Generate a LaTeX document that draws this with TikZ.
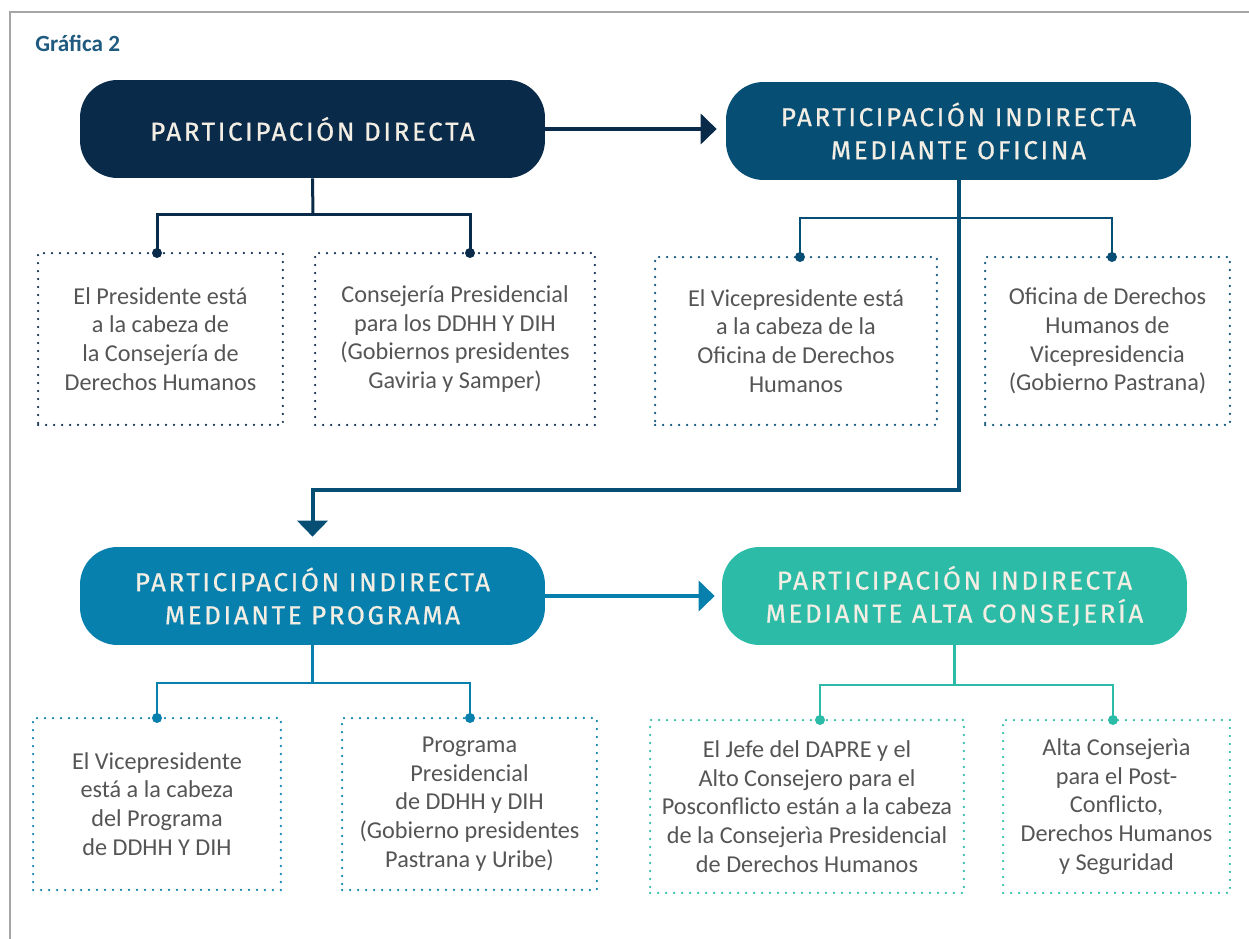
\documentclass[tikz,border=0pt]{standalone}
\usepackage{fontspec}
\setmainfont{Carlito}
\newfontfamily\titlefont[LetterSpace=10,FakeBold=0.6]{Fira Sans}
\usetikzlibrary{arrows.meta}

\definecolor{navy}{HTML}{0A2A4A}
\definecolor{ocean}{HTML}{074E75}
\definecolor{cerul}{HTML}{0780AE}
\definecolor{mint}{HTML}{2BBBA6}
\definecolor{cream}{HTML}{F3EEE4}
\definecolor{bodygray}{HTML}{555555}
\definecolor{framegray}{HTML}{A6A6A6}
\definecolor{titleblue}{HTML}{1F5A7F}

\tikzset{
  partbox/.style={rounded corners=0.75cm,fill=#1,text=cream,minimum width=9.3cm,
    minimum height=1.96cm,align=center,font=\titlefont\fontsize{14.8}{18.8}\selectfont},
  infobox/.style={draw=#1,line width=0.05cm,dash pattern=on 0pt off 0.16cm,line cap=round,
    minimum height=3.44cm,align=center,text=bodygray,font=\fontsize{13.8}{16.4}\selectfont},
  tree/.style={draw=#1,line width=0.05cm},
  bigarrow/.style={draw=#1,line width=0.08cm,-{Triangle[length=0.32cm,width=0.6cm]}},
}

\begin{document}
\begin{tikzpicture}[x=0.02cm,y=-0.02cm]
	\useasboundingbox (0,0) rectangle (1249,939);
	\draw[framegray,line width=0.03cm] (10,939) -- (10,12) -- (1249,12);
	\node[anchor=base west,inner sep=0pt,text=titleblue,font=\bfseries\fontsize{13.2}{15}\selectfont] (graf) at (35,52) {Gráfica 2};

	\node[partbox=navy] (dir) at (312.5,129) {PARTICIPACIÓN DIRECTA};
	\node[partbox=ocean] (ofi) at (958.5,131) {PARTICIPACIÓN INDIRECTA\\MEDIANTE OFICINA};
	\node[partbox=cerul] (prog) at (312.5,596) {PARTICIPACIÓN INDIRECTA\\MEDIANTE PROGRAMA};
	\node[partbox=mint] (alta) at (954.5,596) {PARTICIPACIÓN INDIRECTA\\MEDIANTE ALTA CONSEJERÍA};

	\node[infobox=navy,minimum width=4.9cm] (pres) at (160.5,339) {El Presidente está\\a la cabeza de\\la Consejería de\\Derechos Humanos};
	\node[infobox=navy,minimum width=5.6cm] (conse) at (455,339) {Consejería Presidencial\\para los DDHH Y DIH\\(Gobiernos presidentes\\Gaviria y Samper)};
	\node[infobox=ocean,minimum width=5.64cm,minimum height=3.36cm] (vice) at (796,341) {El Vicepresidente está\\a la cabeza de la\\Oficina de Derechos\\Humanos};
	\node[infobox=ocean,minimum width=4.9cm,minimum height=3.36cm] (ofdh) at (1107.5,341) {Oficina de Derechos\\Humanos de\\Vicepresidencia\\(Gobierno Pastrana)};
	\node[infobox=cerul,minimum width=4.96cm] (vprog) at (157,804) {El Vicepresidente\\está a la cabeza\\del Programa\\de DDHH Y DIH};
	\node[infobox=cerul,minimum width=5.1cm] (pprog) at (469.5,804) {Programa\\Presidencial\\de DDHH y DIH\\(Gobierno presidentes\\Pastrana y Uribe)};
	\node[infobox=mint,minimum width=6.28cm,minimum height=3.46cm] (jefe) at (807,806.5) {El Jefe del DAPRE y el\\Alto Consejero para el\\Posconflicto están a la cabeza\\de la Consejerìa Presidencial\\de Derechos Humanos};
	\node[infobox=mint,minimum width=4.54cm,minimum height=3.46cm] (altac) at (1116.5,806.5) {Alta Consejerìa\\para el Post-\\Conflicto,\\Derechos Humanos\\y Seguridad};

	%flechas principales
	\draw[bigarrow=navy,shorten >=0.18cm] (dir.east) -- (dir.east -| ofi.west);
	\coordinate (turn) at (312.5,490);
	\draw[bigarrow=ocean,shorten >=0.2cm] (ofi.south) |- (turn) -- (prog.north);
	\draw[bigarrow=cerul,shorten >=0.14cm] (prog.east) -- (alta.west);

	%ramas
	\coordinate (dirj) at (313,215);
	\coordinate (presdot) at (157,253);
	\coordinate (consedot) at (470,253);
	\draw[tree=navy,line width=0.06cm] (dir.south) -- (dirj);
	\draw[tree=navy,line width=0.06cm] (presdot) |- (dirj) -| (consedot);
	\fill[navy] (presdot) circle (0.1cm) (consedot) circle (0.1cm);

	\coordinate (ofij) at (958.5,218);
	\coordinate (vicedot) at (800,257);
	\coordinate (ofdhdot) at (1112,257);
	\draw[tree=ocean] (vicedot) |- (ofij) -| (ofdhdot);
	\fill[ocean] (vicedot) circle (0.1cm) (ofdhdot) circle (0.1cm);

	\coordinate (progj) at (312.5,683);
	\coordinate (vprogdot) at (157,718);
	\coordinate (pprogdot) at (470,718);
	\draw[tree=cerul] (prog.south) -- (progj);
	\draw[tree=cerul] (vprogdot) |- (progj) -| (pprogdot);
	\fill[cerul] (vprogdot) circle (0.1cm) (pprogdot) circle (0.1cm);

	\coordinate (altaj) at (954.5,685);
	\coordinate (jefedot) at (820,720);
	\coordinate (altacdot) at (1113,720);
	\draw[tree=mint] (alta.south) -- (altaj);
	\draw[tree=mint] (jefedot) |- (altaj) -| (altacdot);
	\fill[mint] (jefedot) circle (0.1cm) (altacdot) circle (0.1cm);
\end{tikzpicture}
\end{document}
